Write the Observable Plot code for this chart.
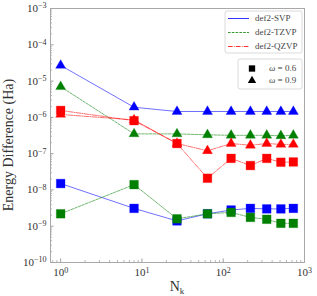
<!DOCTYPE html>
<html><head><meta charset="utf-8">
<script src="https://cdn.jsdelivr.net/npm/d3@7"></script>
<script src="https://cdn.jsdelivr.net/npm/@observablehq/plot@0.6"></script>
<style>body{margin:0;background:#fff}</style>
</head><body><div id="chart"></div>
<script>
// ---- data ----
const Nk = [1, 8, 27, 64, 125, 216, 343, 512, 729];
const svp06  = [1.5e-8, 3.1e-9, 1.4e-9, 2.2e-9, 2.8e-9, 3.1e-9, 3.0e-9, 3.0e-9, 3.1e-9];
const tzvp06 = [2.2e-9, 1.4e-8, 1.6e-9, 2.2e-9, 2.4e-9, 1.75e-9, 1.55e-9, 1.2e-9, 1.2e-9];
const qzvp06 = [1.55e-6, 8.1e-7, 1.9e-7, 2.1e-8, 7.4e-8, 4.7e-8, 7.4e-8, 5.8e-8, 5.9e-8];
const svp09  = [2.7e-5, 1.9e-6, 1.45e-6, 1.45e-6, 1.45e-6, 1.45e-6, 1.45e-6, 1.45e-6, 1.45e-6];
const tzvp09 = [7.0e-6, 3.5e-7, 3.5e-7, 3.3e-7, 3.2e-7, 3.2e-7, 3.2e-7, 3.1e-7, 3.2e-7];
const qzvp09 = [1.2e-6, 8.5e-7, 1.9e-7, 1.2e-7, 1.9e-7, 1.7e-7, 1.9e-7, 1.8e-7, 1.8e-7];
const bases = ["def2-SVP", "def2-TZVP", "def2-QZVP"];
const omegaSymbol = "\u03c9";
const omegaValues = ["0.6", "0.9"];
const xTicks = [1, 10, 100, 1000];
const yTicks = [1e-10, 1e-9, 1e-8, 1e-7, 1e-6, 1e-5, 1e-4, 1e-3];
const xLabel = "N";
const xLabelSub = "k";
const yLabel = "Energy Difference (Ha)";

// ---- styles ----
const seriesColors = ["#0000ff", "#008000", "#ff0000"];
const dashes = ["none", "2.6,1.2", "4.6,1.2,0.9,1.2"];
const W = 317, H = 296, mL = 50, mR = 13, mT = 8, mB = 34;
const font = "'Liberation Serif', serif";

const series06 = [svp06, tzvp06, qzvp06];
const series09 = [svp09, tzvp09, qzvp09];
const rows = (vals) => Nk.map((n, i) => ({Nk: n, v: vals[i]}));

const minor = (majors, lo, hi) => {
  const out = [];
  for (const m of majors) for (let k = 2; k <= 9; k++) { const t = m * k; if (t > lo && t < hi) out.push(t); }
  return out;
};
const xMinor = minor([0.1, ...xTicks], 0.75, 1000);
const yMinor = minor(yTicks, 1e-10, 1e-3);

const seriesMarks = (allVals, symbol, r) => allVals.flatMap((vals, i) => [
  Plot.line(rows(vals), {x: "Nk", y: "v", stroke: seriesColors[i], strokeWidth: 0.75, strokeOpacity: 0.75, strokeDasharray: dashes[i]}),
  Plot.dot(rows(vals), {x: "Nk", y: "v", symbol, r, fill: seriesColors[i], stroke: seriesColors[i], strokeWidth: 0.5, strokeOpacity: 0.6})
]);

const chart = Plot.plot({
  width: W, height: H,
  marginLeft: mL, marginRight: mR, marginTop: mT, marginBottom: mB,
  style: {fontFamily: font, fontSize: "11px", background: "#fff", color: "#444"},
  x: {type: "log", domain: [0.75, 1000]},
  y: {type: "log", domain: [1e-10, 1e-3]},
  marks: [
    Plot.axisY(yMinor, {anchor: "left", tickSize: 2, dx: 2, fill: "none", stroke: "#888", strokeWidth: 0.6, label: null}),
    Plot.axisY(yTicks, {anchor: "left", tickSize: 3.5, dx: 3.5, fill: "none", stroke: "#888", strokeWidth: 0.8, label: null}),
    Plot.axisY(yTicks, {anchor: "left", tickSize: 0, tickPadding: 4, fill: "#333", label: null,
      tickFormat: d => "10|" + String(Math.round(Math.log10(d))).replace("-", "\u2212")}),
    Plot.axisX(xMinor, {anchor: "bottom", tickSize: 2, dy: -2, fill: "none", stroke: "#888", strokeWidth: 0.6, label: null}),
    Plot.axisX(xTicks, {anchor: "bottom", tickSize: 3.5, dy: -3.5, fill: "none", stroke: "#888", strokeWidth: 0.8, label: null}),
    Plot.axisX(xTicks, {anchor: "bottom", tickSize: 0, tickPadding: 6, fill: "#333", label: null,
      tickFormat: d => "10|" + String(Math.round(Math.log10(d)))}),
    ...seriesMarks(series09, "triangle", 3.7),
    ...seriesMarks(series06, "square", 4.9),
    Plot.frame({stroke: "#a8a8a8", strokeWidth: 1})
  ]
});

const svg = d3.select(chart);
// superscript tick labels
svg.selectAll("text").each(function () {
  const t = this.textContent;
  if (!t.includes("|")) return;
  const [base, exp] = t.split("|");
  const sel = d3.select(this);
  sel.text(null);
  sel.append("tspan").text(base);
  sel.append("tspan").attr("dy", "-0.45em").attr("font-size", "8px").text(exp);
});

const fx0 = mL, fx1 = W - mR, fy0 = mT, fy1 = H - mB;
// axis labels
svg.append("text").attr("transform", `translate(13,${(fy0 + fy1) / 2 + 10}) rotate(-90)`)
  .attr("text-anchor", "middle").attr("font-size", "14px").attr("fill", "#333").attr("font-family", font).text(yLabel);
const xl = svg.append("text").attr("x", (fx0 + fx1) / 2).attr("y", 291).attr("text-anchor", "middle")
  .attr("font-size", "14px").attr("fill", "#333").attr("font-family", font);
xl.append("tspan").text(xLabel);
xl.append("tspan").attr("dy", "0.3em").attr("font-size", "9px").text(xLabelSub);

// legends
const lg = svg.append("g").attr("font-family", font).attr("font-size", "9px").attr("text-anchor", "start");
const b1 = {x: fx1 - 79, y: fy0 + 3, w: 77, h: 42};
lg.append("rect").attr("x", b1.x).attr("y", b1.y).attr("width", b1.w).attr("height", b1.h).attr("rx", 2)
  .style("fill", "#fff").style("fill-opacity", 0.8).style("stroke", "#d0d0d0").style("stroke-width", 0.8);
bases.forEach((b, k) => {
  const cy = Math.round(b1.y + 6.5 + k * 14) + 0.5;
  lg.append("path").attr("d", `M${b1.x + 3},${cy}H${b1.x + 24}`)
    .attr("fill", "none").attr("stroke", seriesColors[k]).attr("stroke-width", 1)
    .attr("stroke-opacity", 0.8).attr("stroke-dasharray", dashes[k]);
  lg.append("text").attr("x", b1.x + 30).attr("y", cy).attr("dy", "0.33em").style("fill", "#444").text(b);
});
const b2 = {x: fx1 - 66, y: fy0 + 51, w: 64, h: 30};
lg.append("rect").attr("x", b2.x).attr("y", b2.y).attr("width", b2.w).attr("height", b2.h).attr("rx", 2)
  .style("fill", "#fff").style("fill-opacity", 0.8).style("stroke", "#d0d0d0").style("stroke-width", 0.8);
omegaValues.forEach((o, k) => {
  const cy = b2.y + 9.5 + k * 12;
  const cx = b2.x + 14;
  lg.append("path").attr("transform", `translate(${cx},${cy})`)
    .attr("d", d3.symbol(k === 0 ? d3.symbolSquare : d3.symbolTriangle, k === 0 ? 40 : 30)())
    .style("fill", "#000");
  const t = lg.append("text").attr("x", b2.x + 31).attr("y", cy).attr("dy", "0.33em").style("fill", "#444");
  t.append("tspan").attr("font-style", "italic").text(omegaSymbol);
  t.append("tspan").text(" = " + o);
});

document.getElementById("chart").appendChild(chart);
</script>
</body></html>
